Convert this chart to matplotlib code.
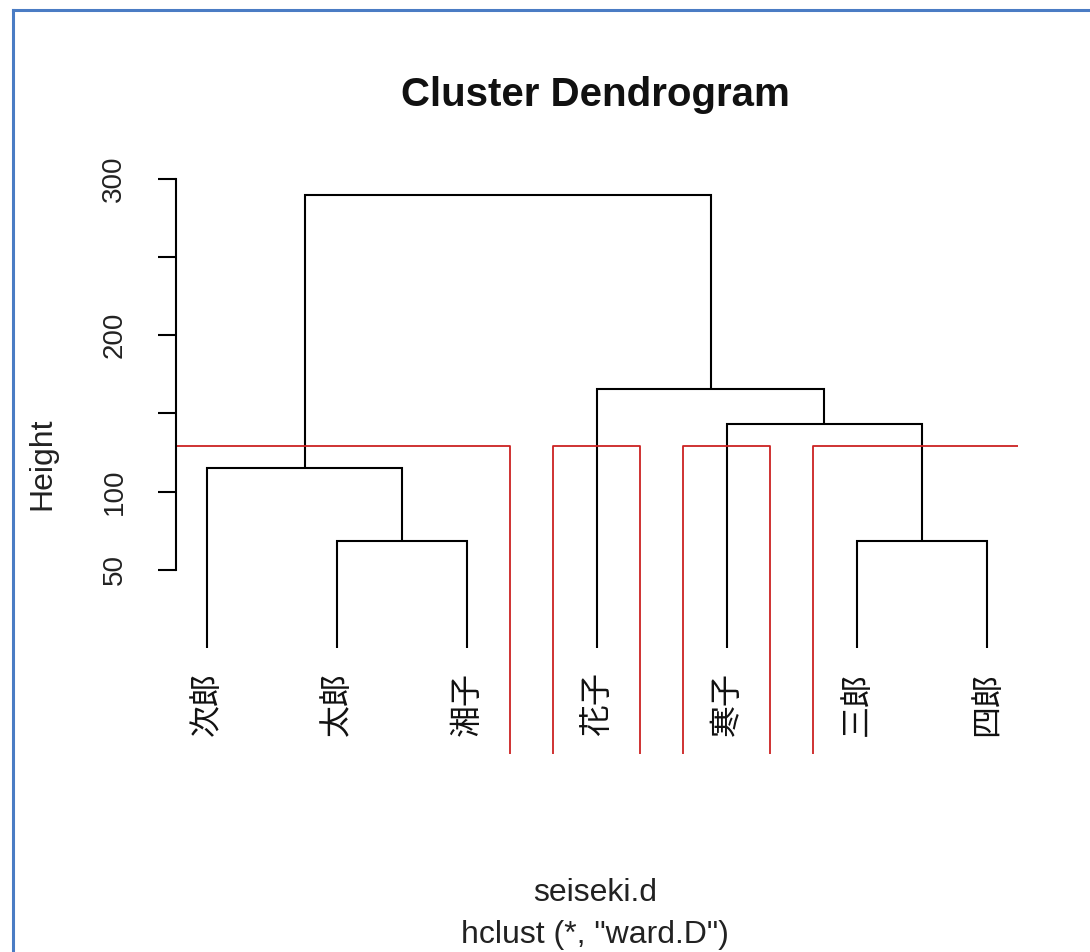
import matplotlib
matplotlib.use("Agg")
import matplotlib.pyplot as plt
from matplotlib.lines import Line2D
import matplotlib.transforms as mtransforms

# ---- data ----
leaf_labels = ["次郎", "太郎", "湘子", "花子", "寒子", "三郎", "四郎"]
# merges: negative = leaf index (1-based, in leaf_labels), positive = earlier merge (1-based)
merge_left = [-6, -2, -1, -5, -4, 3]
merge_right = [-7, -3, 2, 1, 4, 5]
merge_height = [68.6, 68.6, 115.3, 143.2, 165.4, 289.7]
clusters_k4 = [[1, 2, 3], [4], [5], [6, 7]]
cut_height = (merge_height[3] + merge_height[2]) / 2
yticks = [50, 100, 150, 200, 250, 300]
ytick_labels = ["50", "100", "", "200", "", "300"]

W, H = 1090, 952
fig = plt.figure(figsize=(W / 100, H / 100), dpi=100)
ax = fig.add_axes([176 / W, 1 - 754.3 / H, (1018 - 176) / W, (754.3 - 173.5) / H])
ax.set_xlim(0.76, 7.24)
ax.set_ylim(-68, 303.5)

# compute positions
pos = {}
for i in range(len(leaf_labels)):
    pos[-(i + 1)] = (i + 1, 0.0)
lw = 1.5
for m, (l, r, h) in enumerate(zip(merge_left, merge_right, merge_height), start=1):
    xl, yl = pos[l]
    xr, yr = pos[r]
    ax.plot([xl, xl, xr, xr], [yl, h, h, yr], color="black", lw=lw,
            solid_joinstyle="miter", solid_capstyle="butt")
    pos[m] = ((xl + xr) / 2, h)

# leaf labels
offset = mtransforms.offset_copy(ax.transData, fig=fig, x=0, y=-24, units="dots")
for i, lab in enumerate(leaf_labels):
    ax.text(i + 1, 0, lab, rotation=90, ha="center", va="top", transform=offset,
            fontsize=23, family=["Noto Sans CJK JP", "DejaVu Sans"], color="#111111")

# rect.hclust rectangles
for cl in clusters_k4:
    x0 = min(cl) - 1 + 0.66
    x1 = max(cl) + 0.33
    ax.plot([x0, x0, x1, x1], [-68, cut_height, cut_height, -68],
            color="#cc2222", lw=1.3, clip_on=True)

# axes styling
for s in ["top", "right", "bottom"]:
    ax.spines[s].set_visible(False)
ax.spines["left"].set_bounds(50, 300)
ax.spines["left"].set_linewidth(1.5)
ax.set_xticks([])
ax.set_yticks(yticks)
ax.set_yticklabels(ytick_labels, rotation=90, va="center", fontsize=20,
                   family="Liberation Sans", color="#222222")
ax.tick_params(axis="y", length=13, width=1.5, pad=22)

# titles
fig.text(595 / W, 1 - 95 / H, "Cluster Dendrogram", ha="center", va="center",
         fontsize=29, fontweight="bold", family="Liberation Sans", color="#111111")
fig.text(42 / W, 1 - 464 / H, "Height", rotation=90, ha="center", va="center",
         fontsize=23, family="Liberation Sans", color="#222222")
fig.text(595 / W, 1 - 893 / H, "seiseki.d", ha="center", va="center",
         fontsize=23, family="Liberation Sans", color="#222222")
fig.text(595 / W, 1 - 935 / H, 'hclust (*, "ward.D")', ha="center", va="center",
         fontsize=23, family="Liberation Sans", color="#222222")

# window frame
fig.add_artist(Line2D([13 / W, 13 / W], [0, 1 - 10 / H], color="#4a7cc4", lw=2.2,
                      transform=fig.transFigure))
fig.add_artist(Line2D([13 / W, 1], [1 - 10 / H, 1 - 10 / H], color="#4a7cc4", lw=2.2,
                      transform=fig.transFigure))

fig.savefig("out.png", dpi=100, facecolor="white")
